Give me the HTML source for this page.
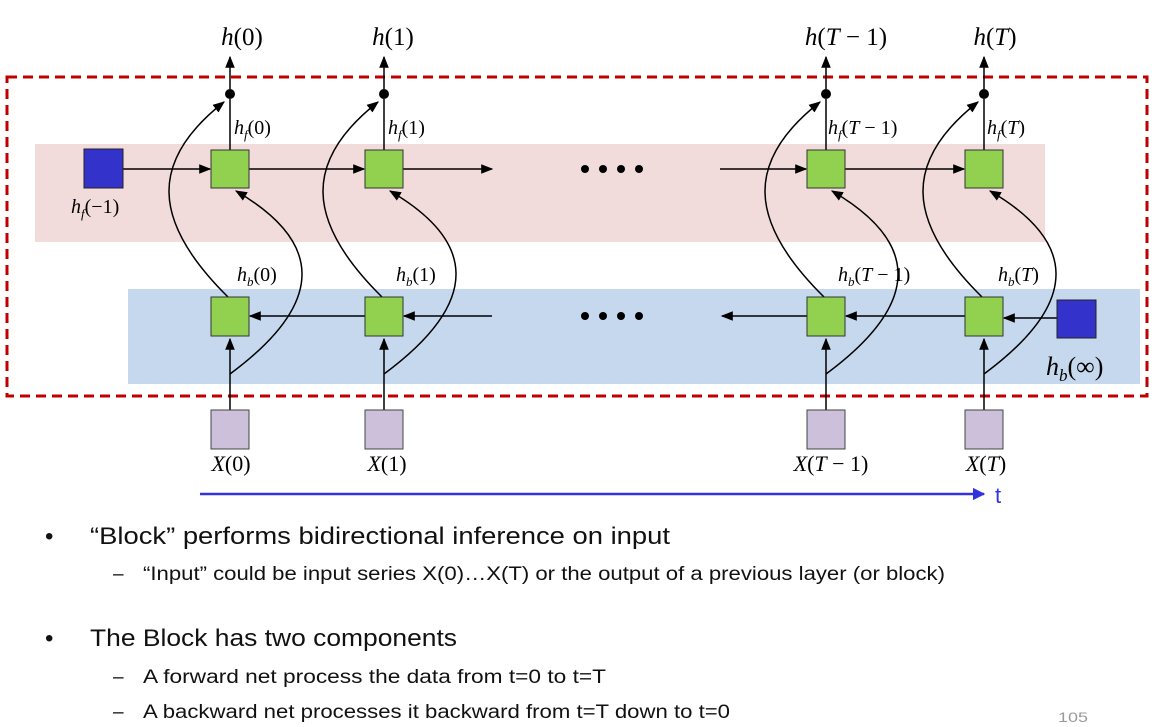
<!DOCTYPE html>
<html><head><meta charset="utf-8"><style>
body{margin:0;background:#fff;width:1154px;height:727px;overflow:hidden}
svg{display:block}
.m{font-family:"Liberation Serif",serif;fill:#000}
.m .i{font-style:italic}
.t{font-family:"Liberation Sans",sans-serif;fill:#111}
</style></head><body>
<svg width="1154" height="727" viewBox="0 0 1154 727" xmlns="http://www.w3.org/2000/svg">
<defs>
<marker id="a" viewBox="0 0 10 10" refX="9" refY="5" markerWidth="8" markerHeight="8" orient="auto-start-reverse"><path d="M0,1 L10,5 L0,9 z" fill="#000"/></marker>
<marker id="b" viewBox="0 0 10 10" refX="9" refY="5" markerWidth="5" markerHeight="5" orient="auto"><path d="M0,0 L10,5 L0,10 z" fill="#3333dd"/></marker>
</defs>
<rect x="35" y="144" width="1010" height="98" fill="#f2dbdb"/>
<rect x="128" y="289" width="1012" height="95" fill="#c6d8ee"/>
<rect x="7" y="77" width="1140" height="319" fill="none" stroke="#c00000" stroke-width="3" stroke-dasharray="10,6"/>
<g stroke="#000" stroke-width="1.5" fill="none">
<line x1="123" y1="169" x2="210" y2="169" marker-end="url(#a)"/>
<line x1="249" y1="169" x2="364" y2="169" marker-end="url(#a)"/>
<line x1="403" y1="169" x2="492" y2="169" marker-end="url(#a)"/>
<line x1="720" y1="169" x2="806" y2="169" marker-end="url(#a)"/>
<line x1="845" y1="169" x2="964" y2="169" marker-end="url(#a)"/>
<line x1="1057" y1="318" x2="1004" y2="318" marker-end="url(#a)"/>
<line x1="965" y1="316" x2="846" y2="316" marker-end="url(#a)"/>
<line x1="807" y1="316" x2="722" y2="316" marker-end="url(#a)"/>
<line x1="492" y1="316" x2="404" y2="316" marker-end="url(#a)"/>
<line x1="365" y1="316" x2="250" y2="316" marker-end="url(#a)"/>
</g>
<g stroke="#000" stroke-width="1.5" fill="none">
<line x1="230" y1="150" x2="230" y2="99"/><line x1="230" y1="89" x2="230" y2="57" marker-end="url(#a)"/>
<line x1="230" y1="410" x2="230" y2="339" marker-end="url(#a)"/>
<path d="M228,297 C150,220 150,160 224,102" marker-end="url(#a)"/>
<path d="M230,374 C330,300 320,240 236,191" marker-end="url(#a)"/>
<line x1="384" y1="150" x2="384" y2="99"/><line x1="384" y1="89" x2="384" y2="57" marker-end="url(#a)"/>
<line x1="384" y1="410" x2="384" y2="339" marker-end="url(#a)"/>
<path d="M382,297 C304,220 304,160 378,102" marker-end="url(#a)"/>
<path d="M384,374 C484,300 474,240 390,191" marker-end="url(#a)"/>
<line x1="826" y1="150" x2="826" y2="99"/><line x1="826" y1="89" x2="826" y2="57" marker-end="url(#a)"/>
<line x1="826" y1="410" x2="826" y2="339" marker-end="url(#a)"/>
<path d="M824,297 C746,220 746,160 820,102" marker-end="url(#a)"/>
<path d="M826,374 C926,300 916,240 832,191" marker-end="url(#a)"/>
<line x1="984" y1="150" x2="984" y2="99"/><line x1="984" y1="89" x2="984" y2="57" marker-end="url(#a)"/>
<line x1="984" y1="410" x2="984" y2="339" marker-end="url(#a)"/>
<path d="M982,297 C904,220 904,160 978,102" marker-end="url(#a)"/>
<path d="M984,374 C1084,300 1074,240 990,191" marker-end="url(#a)"/>
</g>
<g fill="#000"><circle cx="230" cy="94" r="5"/><circle cx="384" cy="94" r="5"/><circle cx="826" cy="94" r="5"/><circle cx="984" cy="94" r="5"/>
<circle cx="585" cy="169" r="4"/><circle cx="603" cy="169" r="4"/><circle cx="621" cy="169" r="4"/><circle cx="639" cy="169" r="4"/>
<circle cx="585" cy="316" r="4"/><circle cx="603" cy="316" r="4"/><circle cx="621" cy="316" r="4"/><circle cx="639" cy="316" r="4"/></g>
<g fill="#92d050" stroke="#333" stroke-width="1">
<rect x="211" y="150" width="38" height="38"/><rect x="365" y="150" width="38" height="38"/><rect x="807" y="150" width="38" height="38"/><rect x="965" y="150" width="38" height="38"/>
<rect x="211" y="297" width="38" height="39"/><rect x="365" y="297" width="38" height="39"/><rect x="807" y="297" width="38" height="39"/><rect x="965" y="297" width="38" height="39"/>
</g>
<g fill="#3333cc" stroke="#222" stroke-width="1"><rect x="84" y="149" width="39" height="39"/><rect x="1057" y="300" width="39" height="38"/></g>
<g fill="#ccc0da" stroke="#444" stroke-width="1"><rect x="211" y="410" width="38" height="39"/><rect x="365" y="410" width="38" height="39"/><rect x="807" y="410" width="38" height="39"/><rect x="965" y="410" width="38" height="39"/></g>
<g class="m" font-size="25" text-anchor="middle">
<text x="242" y="45"><tspan class="i">h</tspan>(0)</text><text x="393" y="45"><tspan class="i">h</tspan>(1)</text><text x="846" y="45"><tspan class="i">h</tspan>(<tspan class="i">T</tspan> − 1)</text><text x="995" y="45"><tspan class="i">h</tspan>(<tspan class="i">T</tspan>)</text>
</g>
<g class="m" font-size="20">
<text x="234" y="134"><tspan class="i">h</tspan><tspan class="i" font-size="13" dy="5">f</tspan><tspan dy="-5">(0)</tspan></text>
<text x="388" y="134"><tspan class="i">h</tspan><tspan class="i" font-size="13" dy="5">f</tspan><tspan dy="-5">(1)</tspan></text>
<text x="828" y="134"><tspan class="i">h</tspan><tspan class="i" font-size="13" dy="5">f</tspan><tspan dy="-5">(</tspan><tspan class="i">T</tspan> − 1)</text>
<text x="987" y="134"><tspan class="i">h</tspan><tspan class="i" font-size="13" dy="5">f</tspan><tspan dy="-5">(</tspan><tspan class="i">T</tspan>)</text>
<text x="71" y="213"><tspan class="i">h</tspan><tspan class="i" font-size="13" dy="5">f</tspan><tspan dy="-5">(−1)</tspan></text>
<text x="237" y="281"><tspan class="i">h</tspan><tspan class="i" font-size="13" dy="5">b</tspan><tspan dy="-5">(0)</tspan></text>
<text x="396" y="281"><tspan class="i">h</tspan><tspan class="i" font-size="13" dy="5">b</tspan><tspan dy="-5">(1)</tspan></text>
<text x="838" y="281"><tspan class="i">h</tspan><tspan class="i" font-size="13" dy="5">b</tspan><tspan dy="-5">(</tspan><tspan class="i">T</tspan> − 1)</text>
<text x="998" y="281"><tspan class="i">h</tspan><tspan class="i" font-size="13" dy="5">b</tspan><tspan dy="-5">(</tspan><tspan class="i">T</tspan>)</text>
</g>
<text class="m" x="1046" y="375" font-size="26"><tspan class="i">h</tspan><tspan class="i" font-size="17" dy="6">b</tspan><tspan dy="-6">(∞)</tspan></text>
<g class="m" font-size="22" text-anchor="middle">
<text x="231" y="471"><tspan class="i">X</tspan>(0)</text><text x="387" y="471"><tspan class="i">X</tspan>(1)</text><text x="831" y="471"><tspan class="i">X</tspan>(<tspan class="i">T</tspan> − 1)</text><text x="986" y="471"><tspan class="i">X</tspan>(<tspan class="i">T</tspan>)</text>
</g>
<line x1="200" y1="494" x2="984" y2="494" stroke="#3333dd" stroke-width="2.5" marker-end="url(#b)"/>
<text x="995" y="503" font-family="Liberation Sans,sans-serif" font-size="22" fill="#3333dd">t</text>
<g class="t">
<text x="45" y="544" font-size="24">•</text>
<text x="90" y="544" font-size="24" textLength="580" lengthAdjust="spacingAndGlyphs">“Block” performs bidirectional inference on input</text>
<text x="113" y="580" font-size="19">–</text>
<text x="143" y="580" font-size="19" textLength="802" lengthAdjust="spacingAndGlyphs">“Input” could be input series X(0)…X(T) or the output of a previous layer (or block)</text>
<text x="45" y="646" font-size="24">•</text>
<text x="90" y="646" font-size="24" textLength="367" lengthAdjust="spacingAndGlyphs">The Block has two components</text>
<text x="113" y="683" font-size="19">–</text>
<text x="143" y="683" font-size="19" textLength="463" lengthAdjust="spacingAndGlyphs">A forward net process the data from t=0 to t=T</text>
<text x="113" y="718" font-size="19">–</text>
<text x="143" y="718" font-size="19" textLength="587" lengthAdjust="spacingAndGlyphs">A backward net processes it backward from t=T down to t=0</text>
<text x="1058" y="722" font-size="14" fill="#999" textLength="30" lengthAdjust="spacingAndGlyphs">105</text>
</g>
</svg>
</body></html>
